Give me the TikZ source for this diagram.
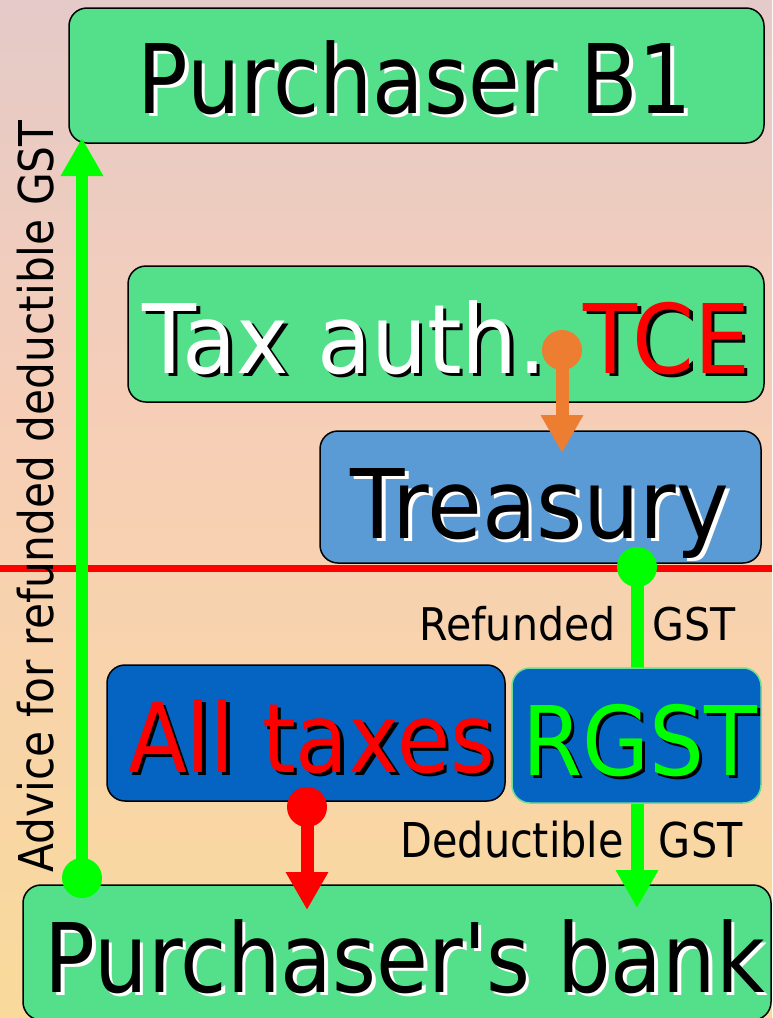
\documentclass[tikz,border=0pt]{standalone}
\usepackage{fontspec}
\usepackage{graphicx}
\setmainfont{DejaVu Sans}
\usetikzlibrary{arrows.meta}
\definecolor{boxgreen}{RGB}{84,223,138}
\definecolor{treasblue}{RGB}{91,155,213}
\definecolor{darkblue}{RGB}{5,99,193}
\definecolor{orangeA}{RGB}{237,125,49}
\definecolor{brightgreen}{RGB}{0,255,0}
\definecolor{bgtop}{RGB}{228,202,200}
\definecolor{bgmid}{RGB}{246,206,184}
\definecolor{bgbot}{RGB}{250,218,155}
\definecolor{rgstborder}{RGB}{110,220,150}
\newcommand{\shd}[3]{\makebox[0pt][l]{\kern4pt\raisebox{-3.5pt}{\textcolor{#3}{#1}}}\textcolor{#2}{#1}}
\newcommand{\bigtxt}{\fontsize{96}{110}\selectfont}
\tikzset{
  box/.style={draw=black, line width=1.5pt, rounded corners=18pt, inner sep=0pt},
  label txt/.style={anchor=base, inner sep=0pt, text=black},
  dotline/.style={line width=13pt},
  tipA/.style={-{Triangle[width=40pt,length=38pt]}},
}
\begin{document}
\begin{tikzpicture}[x=1pt,y=-1pt]
\useasboundingbox (0,0) rectangle (772,1018);
\shade[top color=bgtop, bottom color=bgmid] (0,0) rectangle (772,400.5);
\shade[top color=bgmid, bottom color=bgbot] (0,400) rectangle (772,1018);

% boxes
\node[box, fill=boxgreen, minimum width=695pt, minimum height=135pt] (b1) at (416.5,75.5) {};
\node[box, fill=boxgreen, minimum width=636pt, minimum height=136pt] (tax) at (446,334) {};
\node[box, fill=treasblue, minimum width=441pt, minimum height=132pt] (treas) at (540.5,497) {};
\node[box, fill=darkblue, minimum width=398pt, minimum height=136pt] (alltax) at (306,733) {};
\node[box, fill=boxgreen, minimum width=748pt, minimum height=135pt] (bank) at (397,952.5) {};

% red dividing line
\coordinate (rl1) at (0,568);
\coordinate (rl2) at (772,568);
\draw[red, line width=7pt] (rl1) -- (rl2);

% box texts
\node[label txt] (tb1) at (415,113) {\resizebox{554pt}{\height}{\bigtxt\shd{Purchaser B1}{black}{white}}};
\node[label txt] (ttax) at (446.5,373) {\resizebox{607pt}{\height}{\bigtxt\shd{Tax auth.}{white}{black} \shd{TCE}{red}{black}}};
\node[label txt] (ttreas) at (540,538) {\resizebox{378pt}{\height}{\bigtxt\shd{Treasury}{black}{white}}};
\node[label txt] (tall) at (311.5,772) {\resizebox{367pt}{\height}{\bigtxt\shd{All taxes}{red}{black}}};
\node[label txt] (tbank) at (405,992) {\resizebox{720pt}{\height}{\bigtxt\shd{Purchaser\textquotesingle s bank}{black}{white}}};

% side labels
\node[label txt] (tref) at (577.5,640) {\resizebox{316pt}{\height}{\fontsize{45}{54}\selectfont Refunded\hspace{0.9em}GST}};
\node[label txt] (tded) at (571.5,857) {\resizebox{342pt}{\height}{\fontsize{48}{58}\selectfont Deductible\hspace{0.85em}GST}};
\node[label txt, rotate=90] (tadv) at (53,496.5) {\resizebox{752pt}{\height}{\fontsize{48}{58}\selectfont Advice for refunded deductible GST}};

% right green arrow (Treasury -> bank, behind RGST)
\coordinate (g2a) at (637,567);
\coordinate (g2b) at (637,908);
\draw[brightgreen, dotline, tipA] (g2a) -- (g2b);
\fill[brightgreen] (g2a) circle (20pt);

% RGST box on top
\node[box, draw=rgstborder, fill=darkblue, minimum width=249pt, minimum height=135pt] (rgst) at (636.5,735.5) {};
\node[label txt] (trgst) at (639.5,775) {\resizebox{235pt}{\height}{\bigtxt\shd{RGST}{brightgreen}{black}}};

% orange arrow TCE -> Treasury
\coordinate (o1) at (562,350);
\coordinate (o2) at (562,453);
\draw[orangeA, dotline, tipA] (o1) -- (o2);
\fill[orangeA] (o1) circle (20pt);

% red arrow All taxes -> bank
\coordinate (r1) at (307,807);
\coordinate (r2) at (307,910);
\draw[red, dotline, tipA] (r1) -- (r2);
\fill[red] (r1) circle (20pt);

% left green arrow bank -> Purchaser B1
\coordinate (g1a) at (82,878);
\coordinate (g1b) at (82,138);
\draw[brightgreen, line width=12pt, tipA] (g1a) -- (g1b);
\fill[brightgreen] (g1a) circle (20pt);
\end{tikzpicture}
\end{document}
